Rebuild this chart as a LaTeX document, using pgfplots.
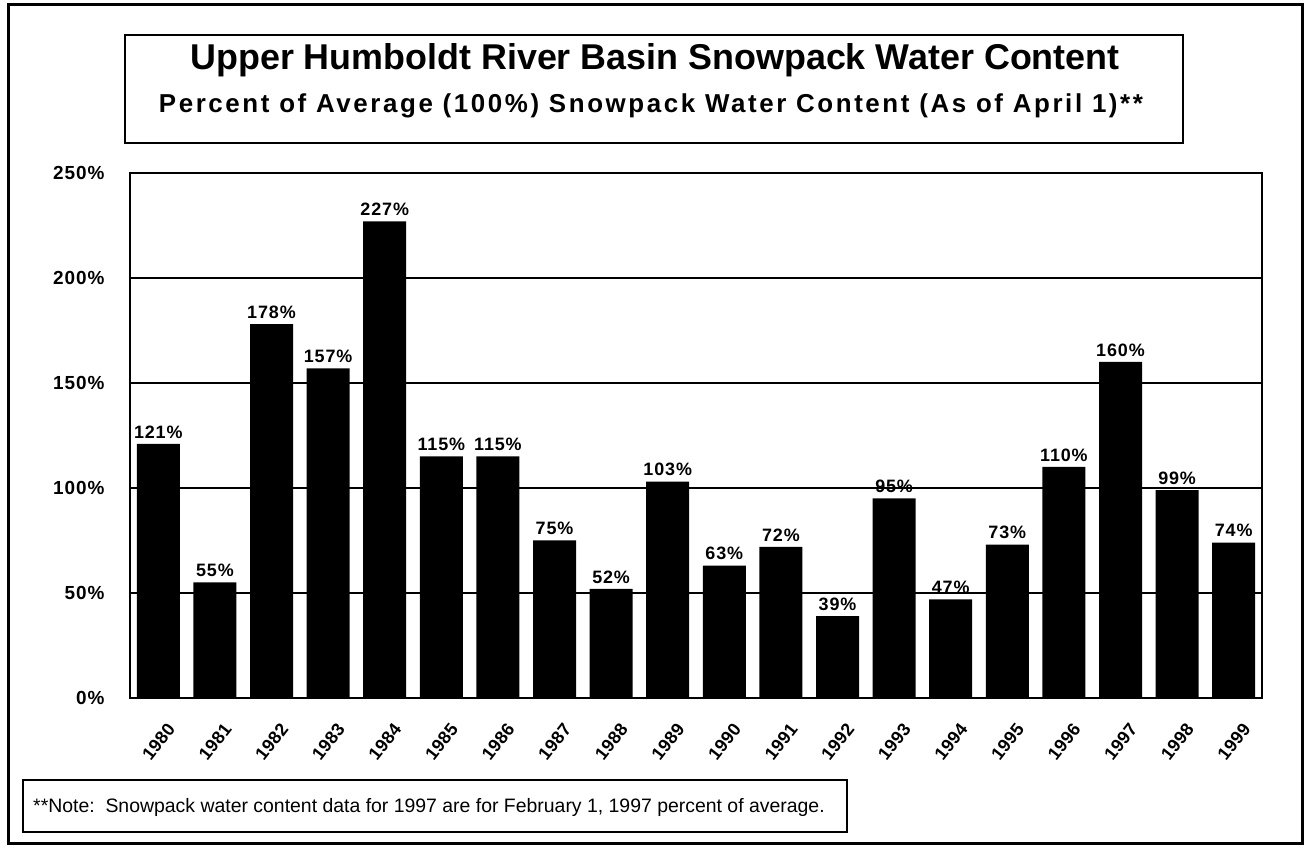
\documentclass[border=0pt]{standalone}
\usepackage{fontspec}
\setmainfont{Liberation Sans}
\newfontfamily\spaced[LetterSpace=5]{Liberation Sans}
\newfontfamily\yrspaced[LetterSpace=2]{Liberation Sans}
\newfontfamily\subspaced[LetterSpace=10]{Liberation Sans}
\usepackage{pgfplots}
\pgfplotsset{compat=1.18}
\begin{document}
\begin{tikzpicture}[x=1bp,y=1bp]
\path (0,0) rectangle (1307,847);
\draw[line width=3bp] (8,4) rectangle (1302,842);
\draw[line width=2.5bp] (125,812) rectangle (1183,704);
\node[anchor=base, inner sep=0pt, font=\fontsize{36}{40}\selectfont\bfseries] at (655,777) {Upper Humboldt River Basin Snowpack Water Content};
\node[anchor=base, inner sep=0pt, font=\fontsize{26}{29}\selectfont\subspaced\bfseries] at (651,734) {Percent of Average (100\%) Snowpack Water Content (As of April 1)**};
\draw[line width=1.2bp] (23,67) rectangle (847,15);
\node[anchor=base west, inner sep=0pt, font=\fontsize{19.5}{22}\selectfont] at (33,35) {**Note:\ \ Snowpack water content data for 1997 are for February 1, 1997 percent of average.};
\begin{axis}[
  at={(130bp,149bp)}, anchor=south west,
  scale only axis, width=1132bp, height=525bp,
  xmin=-0.5, xmax=19.5, ymin=0, ymax=250,
  ytick={0,50,100,150,200,250},
  yticklabels={0\%,50\%,100\%,150\%,200\%,250\%},
  xtick={0,1,...,19},
  xticklabels={1980,1981,1982,1983,1984,1985,1986,1987,1988,1989,1990,1991,1992,1993,1994,1995,1996,1997,1998,1999},
  major tick length=0pt,
  ymajorgrids,
  grid style={black, line width=1.6bp},
  axis line style={line width=2.5bp},
  yticklabel style={font=\fontsize{19}{21}\selectfont\spaced\bfseries, anchor=east, xshift=-22bp},
  xticklabel style={font=\fontsize{18}{20}\selectfont\yrspaced\bfseries, xshift=15bp, yshift=-25bp, rotate=52, anchor=east},
  ybar, bar width=43bp,
  point meta=explicit symbolic,
  nodes near coords,
  every node near coord/.append style={font=\fontsize{18}{20}\selectfont\spaced\bfseries, anchor=south, yshift=2bp},
]
\addplot[fill=black, draw=none] coordinates {
(0,121) [121\%]
(1,55) [55\%]
(2,178) [178\%]
(3,157) [157\%]
(4,227) [227\%]
(5,115) [115\%]
(6,115) [115\%]
(7,75) [75\%]
(8,52) [52\%]
(9,103) [103\%]
(10,63) [63\%]
(11,72) [72\%]
(12,39) [39\%]
(13,95) [95\%]
(14,47) [47\%]
(15,73) [73\%]
(16,110) [110\%]
(17,160) [160\%]
(18,99) [99\%]
(19,74) [74\%]
};
\end{axis}
\end{tikzpicture}
\end{document}
